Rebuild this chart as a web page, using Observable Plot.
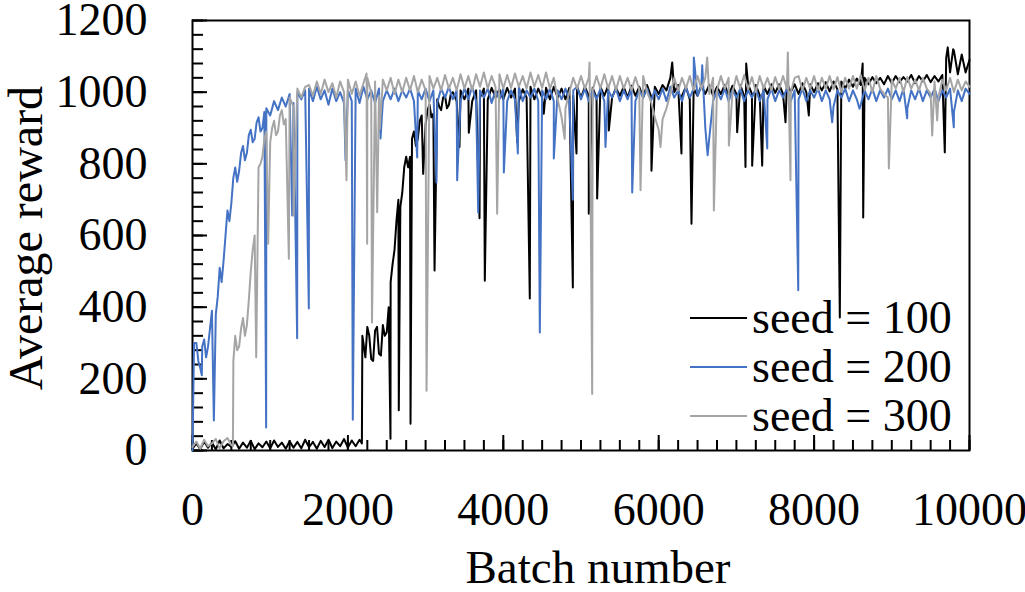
<!DOCTYPE html>
<html><head><meta charset="utf-8">
<script src="https://cdn.jsdelivr.net/npm/d3@7"></script>
<script src="https://cdn.jsdelivr.net/npm/@observablehq/plot@0.6"></script>
<style>
body{margin:0;background:#fff}
#chart svg{font-family:"Liberation Serif","Times New Roman",serif}
</style>
</head><body><div id="chart"></div>
<script>
const seeds = ["seed = 100", "seed = 200", "seed = 300"];
const colors = ["#000000", "#4472C4", "#A5A5A5"];
const xMajorTicks = [0, 2000, 4000, 6000, 8000, 10000];
const yMajorTicks = [0, 200, 400, 600, 800, 1000, 1200];
const xTitle = "Batch number";
const yTitle = "Average reward";

// rewards sampled every 50 batches (0..10000)
const seed100Base = [
  5, 20, 4, 25, 8, 22, 3, 28, 6, 18,
  10, 26, 5, 22, 8, 27, 4, 20, 9, 25,
  6, 28, 10, 22, 5, 26, 8, 24, 6, 30,
  9, 24, 5, 27, 10, 30, 7, 25, 12, 32,
  8, 28, 12, 30, 300, 345, 255, 335, 270, 350,
  330, 470, 560, 700, 720, 820, 820, 890, 870, 935,
  910, 965, 940, 980, 950, 990, 965, 1000, 975, 1005,
  980, 1010, 975, 1005, 985, 1010, 980, 1012, 985, 1008,
  980, 1012, 985, 1010, 975, 1008, 985, 1015, 980, 1010,
  985, 1012, 980, 1015, 985, 1010, 980, 1012, 990, 1015,
  985, 1015, 990, 1012, 985, 1015, 990, 1018, 985, 1012,
  990, 1015, 985, 1018, 990, 1015, 985, 1020, 990, 1015,
  995, 1020, 1005, 1040, 1000, 1020, 990, 1015, 980, 1010,
  990, 1018, 995, 1020, 990, 1015, 995, 1020, 992, 1018,
  995, 1020, 990, 1022, 995, 1020, 992, 1018, 995, 1022,
  998, 1022, 995, 1025, 1000, 1022, 995, 1025, 1000, 1022,
  1000, 1025, 1005, 1028, 1002, 1030, 1008, 1030, 1010, 1035,
  1015, 1038, 1020, 1040, 1022, 1042, 1025, 1040, 1022, 1045,
  1025, 1045, 1028, 1042, 1030, 1048, 1025, 1045, 1030, 1048,
  1028, 1045, 1030, 1048, 1095, 1055, 1115, 1050, 1105, 1055,
  1090
];
// in-between readings and single-batch dips / peaks: [batch, reward]
const seed100Extra = [
  [2180, 20], [2186, 320], [2225, 260], [2275, 320], [2325, 250], [2375, 345], [2425, 265],
  [2475, 320], [2525, 400], [2575, 520], [2625, 640], [2675, 680], [2725, 790], [2775, 790],
  [2825, 870], [2875, 850], [2925, 920], [3025, 950], [3075, 930], [3175, 960], [3225, 985],
  [3275, 955], [3325, 995],
  [2548, 33], [2655, 112], [2806, 75], [2969, 772], [3115, 502],
  [3436, 847], [3556, 887], [3694, 648], [3762, 474], [4179, 860], [4341, 424], [4521, 940],
  [4895, 455], [4942, 829], [5100, 661], [5208, 703], [5358, 893], [5907, 781], [6174, 1083],
  [6293, 829], [6422, 633], [7010, 888], [7117, 791], [7126, 1080], [7203, 795], [7332, 795],
  [7632, 916], [7932, 935], [8331, 371], [8625, 1080], [8632, 650], [9682, 832], [9720, 1125],
  [9790, 1120]
];

const seed200Base = [
  0, 300, 230, 310, 290, 390, 380, 510, 530, 670,
  690, 790, 780, 850, 830, 895, 870, 930, 900, 955,
  935, 975, 950, 985, 960, 995, 970, 1000, 980, 1005,
  1010, 975, 1015, 980, 1005, 965, 1010, 975, 1000, 970,
  1005, 975, 1010, 970, 1015, 980, 1005, 970, 1010, 975,
  1005, 980, 1010, 975, 1005, 985, 1010, 975, 1005, 980,
  1010, 975, 1005, 970, 1010, 985, 1015, 980, 1005, 975,
  1010, 980, 1015, 975, 1005, 985, 1010, 970, 1005, 980,
  1010, 975, 1005, 980, 1015, 975, 1005, 985, 1010, 975,
  1005, 980, 1010, 975, 1005, 980, 1010, 975, 1005, 1015,
  980, 1010, 975, 1005, 980, 1010, 975, 1005, 985, 1010,
  975, 1005, 980, 1010, 975, 1005, 985, 1010, 975, 1005,
  980, 1010, 975, 1015, 985, 1005, 975, 1015, 985, 1010,
  990, 1020, 900, 870, 975, 1005, 980, 1010, 975, 1005,
  985, 1010, 975, 1005, 985, 1010, 975, 1005, 980, 1010,
  975, 1005, 985, 1010, 975, 1005, 980, 1010, 975, 1005,
  985, 1010, 975, 1005, 980, 960, 1005, 985, 1010, 975,
  1005, 980, 965, 1005, 980, 1010, 975, 1005, 985, 1010,
  980, 1005, 975, 1010, 955, 1005, 980, 1010, 975, 1005,
  985, 1010, 975, 1005, 985, 1010, 945, 1005, 975, 1010,
  995
];
const seed200Extra = [
  [20, 300], [75, 250], [125, 290], [175, 260], [225, 340], [325, 430], [375, 470], [425, 600],
  [475, 640], [525, 760], [575, 750], [625, 830], [675, 810], [725, 880], [775, 860],
  [825, 915], [875, 890], [925, 945],
  [120, 210], [275, 84], [948, 64], [1283, 656], [1347, 313], [1497, 396],
  [1970, 810], [2063, 86], [2420, 871], [2892, 818], [3140, 748], [3406, 754], [3677, 664],
  [4007, 776], [4187, 829], [4470, 329], [4650, 815], [4895, 700], [5315, 847], [5659, 720],
  [6452, 1097], [6560, 1075], [6630, 824], [7397, 843], [7796, 447], [8233, 916], [8584, 954],
  [9198, 927], [9798, 902]
];

const seed300Base = [
  10, 25, 5, 30, 12, 20, 32, 6, 26, 35,
  15, 320, 290, 370, 350, 500, 600, 790, 820, 890,
  860, 920, 890, 950, 925, 985, 960, 1010, 985, 1015,
  1020, 990, 1030, 995, 1035, 1000, 1025, 985, 1030, 1000,
  1035, 995, 1030, 990, 1025, 1040, 1000, 1030, 990, 1035,
  1005, 1040, 995, 1035, 1000, 1040, 1005, 1045, 1000, 1035,
  1005, 1045, 1010, 1040, 1005, 1048, 1010, 1040, 1005, 1050,
  1010, 1045, 1005, 1050, 1015, 1055, 1010, 1045, 1015, 1050,
  1010, 1048, 1012, 1052, 1015, 1045, 1010, 1055, 1015, 1048,
  1012, 1055, 1010, 1040, 980, 930, 955, 1000, 1040, 1010,
  1045, 1010, 1040, 1005, 1045, 1010, 1050, 1010, 1045, 1005,
  1045, 1010, 1040, 1005, 1042, 1008, 1045, 1000, 975, 930,
  895, 925, 955, 995, 1040, 1005, 1040, 1010, 1045, 1005,
  1045, 1010, 1040, 995, 1040, 1005, 1045, 1010, 1040, 1000,
  1045, 1010, 1048, 1008, 1042, 1000, 1045, 1010, 1040, 1005,
  1042, 1008, 1045, 1010, 1000, 1040, 1045, 1005, 1040, 1010,
  1045, 1005, 1040, 1010, 1045, 1008, 1042, 1000, 1040, 1010,
  1045, 1010, 1048, 1005, 1040, 1000, 1045, 1010, 995, 985,
  1035, 1010, 1040, 1000, 1042, 1010, 1035, 1005, 1040, 1010,
  995, 1030, 985, 1035, 1005, 1040, 1000, 1035, 1005, 1030,
  1015
];
const seed300Extra = [
  [520, 12], [526, 250], [575, 280], [625, 340], [675, 320], [725, 420], [775, 560],
  [875, 800], [925, 870], [1025, 900], [1075, 880], [1125, 935], [1175, 910],
  [820, 260], [974, 577], [1240, 535], [1300, 656], [1982, 754],
  [2240, 1052], [2248, 577], [2310, 357], [2377, 665], [2411, 898], [3012, 167], [3921, 661],
  [4790, 870], [5110, 1083], [5144, 158], [5766, 726], [6023, 847], [6624, 1097], [6710, 670],
  [6903, 851], [7662, 1111], [7696, 754], [8962, 787], [9520, 879], [9584, 921]
];

function build(name, base, extra) {
  const n = base.length;
  const pts = base.map((v, i) => ({seed: name, batch: i * 10000 / (n - 1), reward: v}));
  extra.forEach(([b, v]) => pts.push({seed: name, batch: b, reward: v}));
  pts.sort((a, b) => a.batch - b.batch);
  return pts;
}
const data = [
  ...build(seeds[0], seed100Base, seed100Extra),
  ...build(seeds[1], seed200Base, seed200Extra),
  ...build(seeds[2], seed300Base, seed300Extra)
];

const xMinor = d3.range(0, 10001, 250);
const yMinor = d3.range(0, 1201, 40);
const fmt = d => String(d);

const chart = Plot.plot({
  width: 1025,
  height: 592,
  marginLeft: 192,
  marginRight: 56,
  marginTop: 20,
  marginBottom: 142,
  style: {fontFamily: "'Liberation Serif', serif", fontSize: "46px", color: "#000", background: "#fff", overflow: "visible"},
  x: {domain: [0, 10000]},
  y: {domain: [0, 1200]},
  color: {domain: seeds, range: colors},
  marks: [
    Plot.axisX(xMinor, {tickSize: -10, fill: "none", strokeWidth: 2, label: null}),
    Plot.axisX(xMajorTicks, {tickSize: -15, fill: "none", strokeWidth: 2, label: null}),
    Plot.axisX(xMajorTicks, {tickSize: 0, tickPadding: 42, label: null, fontSize: 46, tickFormat: fmt}),
    Plot.axisY(yMinor, {tickSize: -11, fill: "none", strokeWidth: 2, label: null}),
    Plot.axisY(yMajorTicks, {tickSize: -15, fill: "none", strokeWidth: 2, label: null}),
    Plot.axisY(yMajorTicks, {tickSize: 0, tickPadding: 45, label: null, fontSize: 46, tickFormat: fmt}),
    Plot.frame({stroke: "#000", strokeWidth: 2}),
    Plot.line(data, {x: "batch", y: "reward", z: "seed", stroke: "seed", strokeWidth: 2, curve: "linear"})
  ]
});
document.getElementById("chart").appendChild(chart);

const svg = d3.select(chart);
svg.append("text")
  .attr("x", 598).attr("y", 583)
  .attr("text-anchor", "middle")
  .attr("font-size", 47)
  .attr("fill", "#000")
  .text(xTitle);
svg.append("text")
  .attr("transform", "translate(42,238) rotate(-90)")
  .attr("text-anchor", "middle")
  .attr("font-size", 48)
  .attr("fill", "#000")
  .text(yTitle);

const legend = svg.append("g");
seeds.forEach((s, i) => {
  const y = 318 + i * 49;
  legend.append("line")
    .attr("x1", 690).attr("x2", 747).attr("y1", y).attr("y2", y)
    .attr("stroke", colors[i]).attr("stroke-width", 2);
  legend.append("text")
    .attr("x", 752).attr("y", y).attr("dy", "0.33em")
    .attr("text-anchor", "start")
    .attr("font-size", 46).attr("fill", "#000")
    .text(s);
});
</script>
</body></html>
